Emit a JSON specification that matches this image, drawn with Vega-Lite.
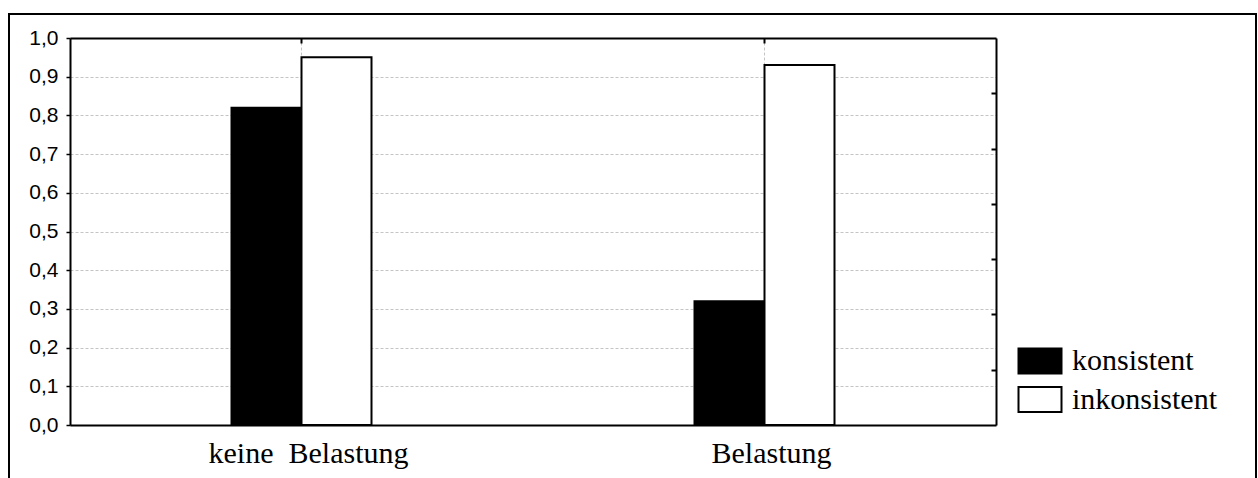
{
  "$schema": "https://vega.github.io/schema/vega-lite/v6.json",
  "width": 1247,
  "height": 466,
  "autosize": {"type": "none"},
  "padding": {"left": 9, "top": 14, "right": 2, "bottom": 0},
  "background": "white",
  "config": {
    "view": {"stroke": "black", "strokeWidth": 2, "fill": "white"}
  },
  "data": {
    "values": [
      {"Belastung": "keine\u00a0 Belastung", "Bedingung": "konsistent", "Wert": 0.82},
      {"Belastung": "keine\u00a0 Belastung", "Bedingung": "inkonsistent", "Wert": 0.95},
      {"Belastung": "Belastung", "Bedingung": "konsistent", "Wert": 0.32},
      {"Belastung": "Belastung", "Bedingung": "inkonsistent", "Wert": 0.93}
    ]
  },
  "resolve": {"axis": {"x": "independent", "y": "independent"}},
  "layer": [
    {
      "mark": {"type": "bar", "stroke": "black", "strokeWidth": 2},
      "encoding": {
        "x": {
          "field": "Belastung",
          "type": "nominal",
          "sort": null,
          "scale": {"range": [61, 987], "paddingInner": 0, "paddingOuter": 0},
          "axis": {
            "orient": "bottom",
            "offset": -55,
            "title": null,
            "ticks": false,
            "grid": false,
            "domainColor": "black",
            "domainWidth": 2,
            "labelFont": "Liberation Serif",
            "labelFontSize": 30,
            "labelColor": "black",
            "labelBaseline": "alphabetic",
            "labelPadding": 37,
            "labelAngle": 0,
            "labelLimit": 500,
            "labelOffset": 7
          }
        },
        "xOffset": {
          "field": "Bedingung",
          "type": "nominal",
          "sort": ["konsistent", "inkonsistent"],
          "scale": {"range": [161.5, 301.5], "paddingInner": 0, "paddingOuter": 0}
        },
        "y": {
          "field": "Wert",
          "type": "quantitative",
          "scale": {"domain": [0, 1], "range": [411, 24], "nice": false, "zero": true},
          "axis": {
            "orient": "left",
            "offset": -61,
            "title": null,
            "values": [0, 0.1, 0.2, 0.3, 0.4, 0.5, 0.6, 0.7, 0.8, 0.9, 1.0],
            "labelExpr": "replace(format(datum.value, '.1f'), '.', ',')",
            "grid": true,
            "gridColor": "#c4c4c4",
            "gridDash": [3, 2],
            "gridWidth": 1,
            "domainColor": "black",
            "domainWidth": 2,
            "tickColor": "black",
            "tickSize": 4,
            "tickWidth": 1.5,
            "labelFont": "Liberation Sans",
            "labelFontSize": 21,
            "labelColor": "black",
            "labelPadding": 8
          }
        },
        "fill": {
          "field": "Bedingung",
          "type": "nominal",
          "scale": {"domain": ["konsistent", "inkonsistent"], "range": ["black", "white"]},
          "legend": {
            "orient": "none",
            "legendX": 1007,
            "legendY": 332,
            "title": null,
            "padding": 0,
            "symbolType": "M-1.72,-1H1.72V1H-1.72Z",
            "symbolSize": 625,
            "symbolStrokeColor": "black",
            "symbolStrokeWidth": 2,
            "symbolOffset": 9,
            "labelOffset": 17,
            "labelFont": "Liberation Serif",
            "labelFontSize": 30,
            "labelColor": "black",
            "rowPadding": 4.5
          }
        }
      }
    },
    {
      "mark": {"type": "bar", "opacity": 0},
      "encoding": {
        "x": {
          "field": "Belastung",
          "type": "nominal",
          "sort": null,
          "axis": {
            "orient": "top",
            "offset": -24,
            "title": null,
            "labels": false,
            "grid": true,
            "bandPosition": 0.5,
            "gridColor": "#c4c4c4",
            "gridDash": [3, 2],
            "gridWidth": 1,
            "domainColor": "black",
            "domainWidth": 2,
            "tickColor": "black",
            "tickSize": -5,
            "tickWidth": 2
          }
        },
        "xOffset": {"field": "Bedingung", "type": "nominal", "sort": ["konsistent", "inkonsistent"]},
        "y": {
          "field": "Wert",
          "type": "quantitative",
          "axis": {
            "orient": "right",
            "offset": -260,
            "title": null,
            "labels": false,
            "grid": false,
            "values": [0.142857, 0.285714, 0.428571, 0.571429, 0.714286, 0.857143],
            "domainColor": "black",
            "domainWidth": 2,
            "tickColor": "black",
            "tickSize": -5,
            "tickWidth": 2
          }
        }
      }
    }
  ]
}
